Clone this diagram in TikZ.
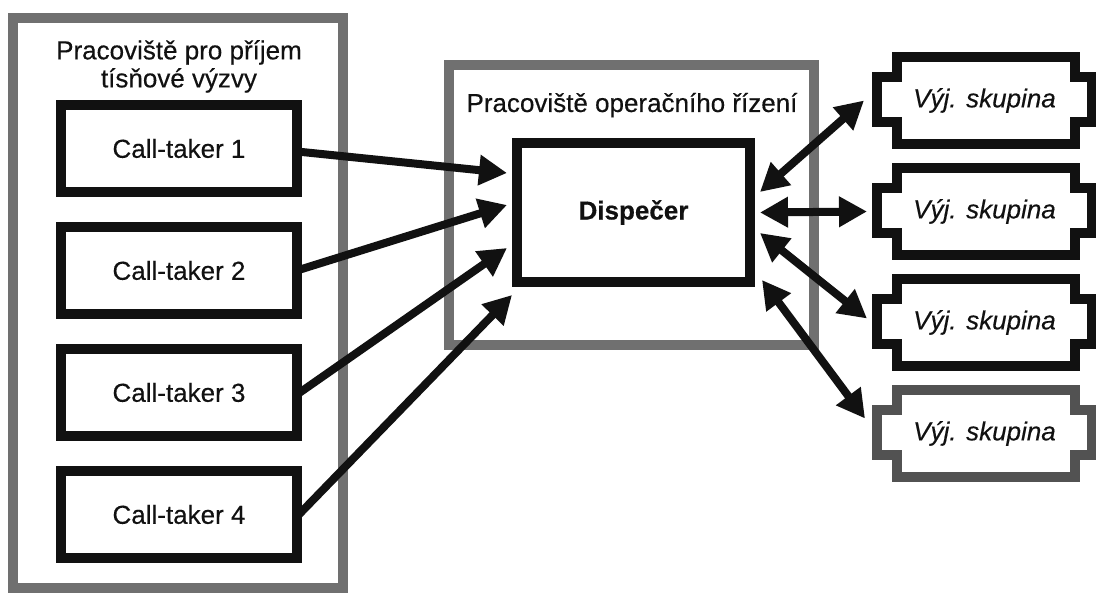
\documentclass[tikz,border=0pt]{standalone}
\usepackage{fontspec}
\setmainfont{Liberation Sans}[FakeBold=0.35]
\usetikzlibrary{arrows.meta,calc}
\definecolor{zonegray}{RGB}{112,112,112}
\definecolor{darkgrp}{RGB}{82,82,82}
\definecolor{ink}{RGB}{17,17,17}
\begin{document}
\begin{tikzpicture}[x=1pt,y=-1pt,
  every node/.style={font=\fontsize{26}{28}\selectfont, text=ink},
  zone/.style={draw=zonegray, line width=10pt, rectangle, inner sep=0pt, outer sep=0pt},
  ctbox/.style={draw=ink, line width=10pt, rectangle, minimum width=236pt, minimum height=87pt, inner sep=0pt, outer sep=0pt},
  dispbox/.style={draw=ink, line width=10pt, rectangle, minimum width=233pt, minimum height=139pt, inner sep=0pt, outer sep=0pt},
  grp/.style={rectangle, minimum width=215pt, minimum height=87pt, inner sep=0pt, outer sep=0pt, font=\fontsize{26}{28}\selectfont\itshape},
  notch/.style={line width=10pt, line join=miter},
  arr/.style={draw=ink, line width=8pt, -{Triangle[length=28pt,width=29pt]}},
  darr/.style={draw=ink, line width=8pt, {Triangle[length=28pt,width=29pt]}-{Triangle[length=28pt,width=29pt]}},
  ]
\useasboundingbox (0,0) rectangle (1096,593);
\clip (0,0) rectangle (1096,593);
\fill[white] (0,0) rectangle (1096,593);

% zones
\node[zone, minimum width=330pt, minimum height=570pt] (leftzone) at (178,303) {};
\node[anchor=north, align=center, inner sep=0pt] (lefttitle) at (179,40) {Pracoviště pro příjem\\tísňové výzvy};
\node[zone, minimum width=365pt, minimum height=280pt] (midzone) at (631.5,205) {};
\node[anchor=base, inner sep=0pt] (midtitle) at (632,112) {Pracoviště operačního řízení};

% call-takers
\node[ctbox] (ct1) at (179,148.5) {Call-taker 1};
\node[ctbox] (ct2) at (179,270.5) {Call-taker 2};
\node[ctbox] (ct3) at (179,392.5) {Call-taker 3};
\node[ctbox] (ct4) at (179,514.5) {Call-taker 4};

% dispatcher
\node[dispbox] (disp) at (633.5,212.5) {\bfseries Dispečer};

% groups
\node[grp] (g1) at (984.5,100.5) {Výj. skupina};
\node[grp] (g2) at (984.5,211.5) {Výj. skupina};
\node[grp] (g3) at (984.5,322.5) {Výj. skupina};
\node[grp] (g4) at (984.5,433.5) {Výj. skupina};
\foreach \n/\col in {g1/ink, g2/ink, g3/ink, g4/darkgrp}{
  \draw[notch, draw=\col] ([shift={(20,0)}]\n.north west) -- ([shift={(-17,0)}]\n.north east)
    -- ++(0,20) -- ++(17,0) -- ++(0,45) -- ++(-17,0) -- ++(0,22)
    -- ([shift={(20,0)}]\n.south west) -- ++(0,-22) -- ++(-20,0) -- ++(0,-45) -- ++(20,0) -- cycle;
}

% arrows from call-takers
\draw[arr] ([shift={(0,3)}]ct1.east) -- ([shift={(-10,30)}]disp.north west);
\draw[arr] (ct2.east) -- ([shift={(-10,62)}]disp.north west);
\draw[arr] ([shift={(0,2)}]ct3.east) -- ([shift={(-10,105)}]disp.north west);
\draw[arr] ([shift={(0,2)}]ct4.east) -- ([shift={(-5,152)}]disp.north west);

% arrows to groups
\draw[darr] ([shift={(10,-20.5)}]disp.east) -- ([shift={(-13,0)}]g1.west);
\draw[darr] ([shift={(10,0)}]disp.east) -- ([shift={(-10,0)}]g2.west);
\draw[darr] ([shift={(10,20.5)}]disp.east) -- ([shift={(-10,-4)}]g3.west);
\draw[darr] ([shift={(12,67.5)}]disp.east) -- ([shift={(-12,-15)}]g4.west);
\end{tikzpicture}
\end{document}
